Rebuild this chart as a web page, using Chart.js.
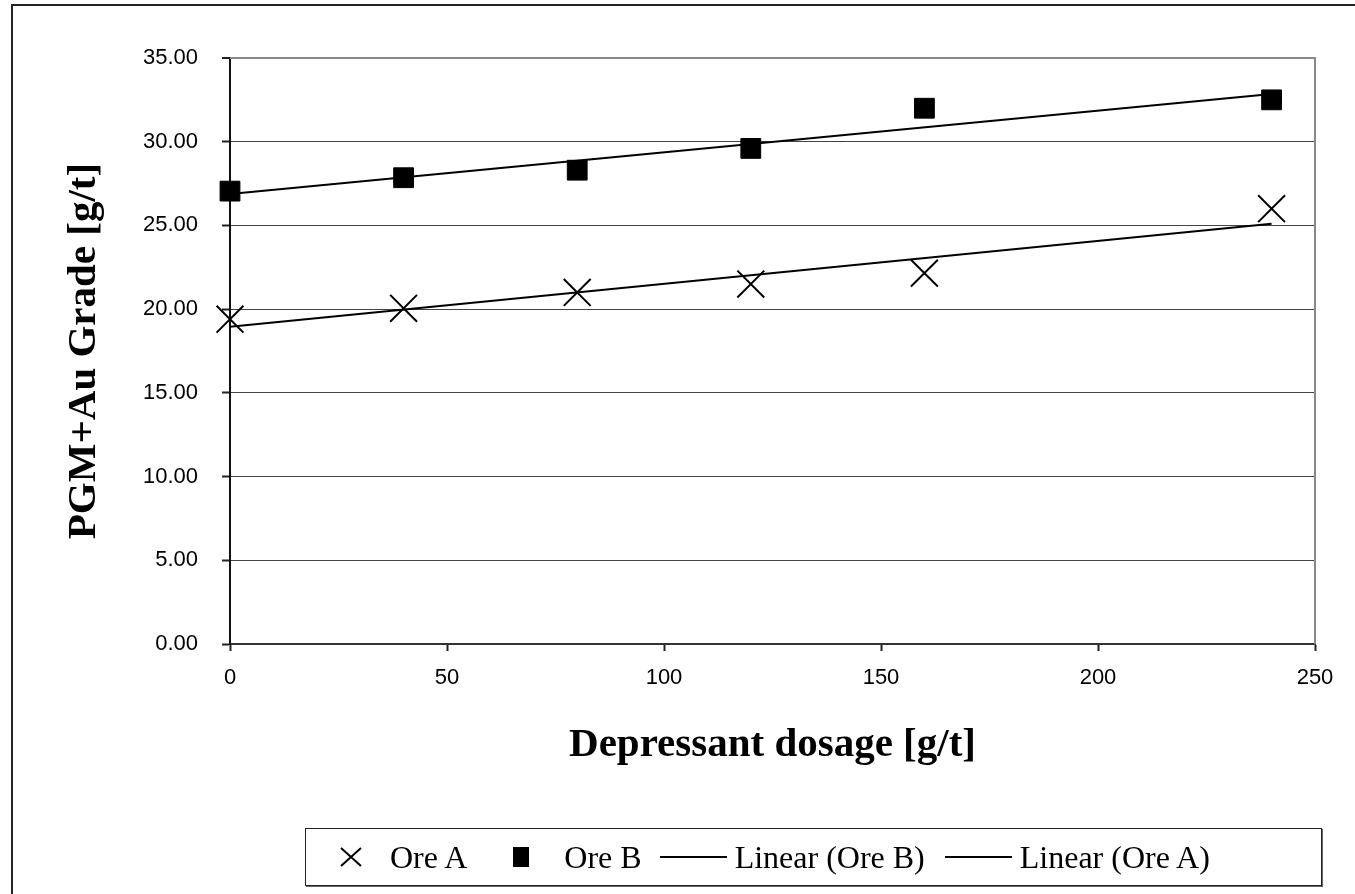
<!DOCTYPE html>
<html>
<head>
<meta charset="utf-8">
<script src="https://cdn.jsdelivr.net/npm/chart.js@4.4.1/dist/chart.umd.min.js"></script>
<style>
	body { margin: 0; background: #fff; }
	#wrap { position: relative; width: 1355px; height: 894px; overflow: hidden; }
	#frame { position: absolute; left: 11px; top: 4px; width: 1400px; height: 950px; border-left: 2px solid #222; border-top: 2px solid #222; }
	#gradeChart { position: absolute; left: 0; top: 0; }
	#legend { position: absolute; left: 305px; top: 828px; width: 1017px; height: 58px; border: 1px solid #222; box-shadow: 1px 1px 0 #666; box-sizing: border-box;
		padding-left: 33px; display: flex; align-items: center; justify-content: flex-start;
		font-family: "Liberation Serif", "Times New Roman", serif; font-size: 32px; color: #000; white-space: nowrap; }
	#legend .item { display: flex; align-items: center; }
	#legend svg { display: block; }
</style>
</head>
<body>
<div id="wrap">
	<div id="frame"></div>
	<canvas id="gradeChart" width="1355" height="894"></canvas>
	<div id="legend"></div>
</div>
<script>
// 데이터
const dosage = [0, 40, 80, 120, 160, 240];
const oreA = [19.4, 20.05, 21.0, 21.5, 22.15, 26.0];
const oreB = [27.05, 27.85, 28.3, 29.6, 32.0, 32.5];
// 추세선 양 끝점
const trendX = [0, 240];
const trendA = [18.95, 25.1];
const trendB = [26.87, 32.85];
const yTicks = [0, 5, 10, 15, 20, 25, 30, 35];
const xTicks = [0, 50, 100, 150, 200, 250];

const toPoints = (xs, ys) => xs.map((x, i) => ({ x: x, y: ys[i] }));

let GRADECHART = {
	init : () => {
		const ctx = document.getElementById('gradeChart');

		// 플롯 테두리 (위, 오른쪽)
		const plotBorder = {
			id: 'plotBorder',
			beforeDatasetsDraw: (chart) => {
				const a = chart.chartArea;
				const c = chart.ctx;
				c.save();
				c.strokeStyle = '#888';
				c.lineWidth = 2;
				c.beginPath();
				c.moveTo(a.left, a.top);
				c.lineTo(a.right, a.top);
				c.lineTo(a.right, a.bottom);
				c.stroke();
				c.restore();
			}
		};

		window.chart = new Chart(ctx, {
			type: 'scatter',
			data: {
				datasets: [
					{ label: 'Ore A', data: toPoints(dosage, oreA), pointStyle: 'crossRot', pointRadius: 19, pointHoverRadius: 19, borderColor: '#000', backgroundColor: '#000', pointBorderWidth: 2, showLine: false, clip: false },
					{ label: 'Ore B', data: toPoints(dosage, oreB), pointStyle: 'rect', pointRadius: 14, pointHoverRadius: 14, borderColor: '#000', backgroundColor: '#000', pointBorderWidth: 1, showLine: false, clip: false },
					{ label: 'Linear (Ore B)', data: toPoints(trendX, trendB), showLine: true, pointRadius: 0, borderColor: '#000', borderWidth: 2, clip: false },
					{ label: 'Linear (Ore A)', data: toPoints(trendX, trendA), showLine: true, pointRadius: 0, borderColor: '#000', borderWidth: 2, clip: false }
				]
			},
			options: {
				responsive: false,
				animation: false,
				layout: { padding: { left: 0, right: 40, top: 58, bottom: 120 } },
				plugins: { legend: { display: false }, tooltip: { enabled: false } },
				scales: {
					x: {
						type: 'linear', min: 0, max: 250,
						afterBuildTicks: (s) => { s.ticks = xTicks.map(v => ({ value: v })); },
						grid: { drawOnChartArea: false, drawTicks: true, tickLength: 7, color: '#222', tickWidth: 2 },
						border: { display: true, color: '#333', width: 2 },
						ticks: { padding: 14, color: '#000', font: { family: 'Liberation Sans, Arial', size: 22 }, maxRotation: 0 },
						title: { display: true, text: 'Depressant dosage [g/t]', color: '#000', font: { family: 'Liberation Serif, Times New Roman', size: 41, weight: 'bold', lineHeight: 1.2 }, padding: { top: 0, bottom: 4 } },
						afterFit: (s) => { s.height = 130; }
					},
					y: {
						type: 'linear', min: 0, max: 35,
						afterBuildTicks: (s) => { s.ticks = yTicks.map(v => ({ value: v })); },
						grid: {
							drawTicks: true, tickLength: 8,
							color: (c) => c.tick && c.tick.value === 35 ? '#888' : '#444',
							lineWidth: (c) => c.tick && c.tick.value === 35 ? 2 : 1,
							tickColor: '#222', tickWidth: 2
						},
						border: { display: true, color: '#111', width: 2 },
						ticks: { padding: 24, color: '#000', font: { family: 'Liberation Sans, Arial', size: 22 }, callback: (v) => Number(v).toFixed(2) },
						title: { display: true, text: 'PGM+Au Grade [g/t]', color: '#000', font: { family: 'Liberation Serif, Times New Roman', size: 41, weight: 'bold', lineHeight: 1.2 }, padding: { top: 60, bottom: 0 } },
						afterFit: (s) => { s.width = 230; }
					}
				}
			},
			plugins: [plotBorder]
		});

		GRADECHART.legend(window.chart);
	},
	// 범례 (데이터셋 라벨에서 생성)
	legend : (chart) => {
		const line = '<svg width="67" height="4"><line x1="0" y1="2" x2="67" y2="2" stroke="#000" stroke-width="2"/></svg>';
		const icons = [
			'<svg width="24" height="22"><path d="M2 2 L22 20 M22 2 L2 20" stroke="#000" stroke-width="2"/></svg>',
			'<svg width="20" height="22"><rect x="2" y="1" width="16" height="20" fill="#000"/></svg>',
			line,
			line
		];
		// 아이콘-글자 간격, 항목 뒤 간격
		const gapIn = [27, 33, 8, 8];
		const gapOut = [44, 18, 20, 0];
		const box = document.getElementById('legend');
		chart.data.datasets.forEach((ds, i) => {
			const item = document.createElement('div');
			item.className = 'item';
			item.style.marginRight = gapOut[i] + 'px';
			item.innerHTML = icons[i] + '<span style="margin-left:' + gapIn[i] + 'px">' + ds.label + '</span>';
			box.appendChild(item);
		});
	}
};

GRADECHART.init();
</script>
</body>
</html>
